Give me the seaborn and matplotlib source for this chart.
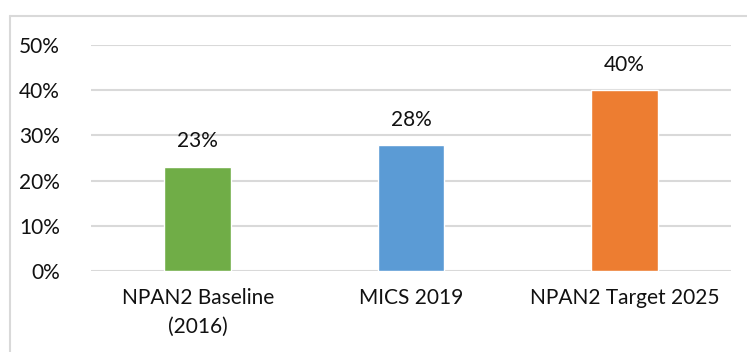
import matplotlib
matplotlib.use("Agg")
import matplotlib.pyplot as plt
from matplotlib.lines import Line2D
from matplotlib.ticker import PercentFormatter
import seaborn as sns
import pandas as pd

# Share of target indicator by source
categories = ["NPAN2 Baseline\n(2016)", "MICS 2019", "NPAN2 Target 2025"]
values = [0.231, 0.278, 0.40]
colors = ["#70AD47", "#5B9BD5", "#ED7D31"]
yticks = [0.0, 0.1, 0.2, 0.3, 0.4, 0.5]

sns.set_theme(style="white")
plt.rcParams["font.family"] = ["Lato", "DejaVu Sans"]

df = pd.DataFrame({"category": categories, "value": values})

fig = plt.figure(figsize=(7.47, 3.52), dpi=100)
ax = fig.add_axes([91 / 747, 81 / 352, 640 / 747, 226 / 352])

sns.barplot(data=df, x="category", y="value", hue="category",
            palette=colors, width=0.314, legend=False, ax=ax,
            saturation=1)

ax.set_ylim(0, 0.5)
ax.set_yticks(yticks)
ax.yaxis.set_major_formatter(PercentFormatter(1.0, decimals=0))
ax.grid(axis="y", color="#D9D9D9", linewidth=1.5)
ax.set_axisbelow(True)
for s in ax.spines.values():
    s.set_visible(False)
ax.set_xlabel("")
ax.set_ylabel("")
ax.tick_params(axis="y", length=0, pad=22.5, labelsize=15, labelcolor="#111111")
ax.tick_params(axis="x", length=0, pad=12, labelsize=15, labelcolor="#111111")
for lbl in ax.get_xticklabels():
    lbl.set_linespacing(1.55)

for i, v in enumerate(values):
    ax.annotate(f"{v:.0%}", (i, v), xytext=(0, 11), textcoords="offset points",
                ha="center", va="bottom", fontsize=15, color="#111111")

# Chart frame (top and left edges)
fig.add_artist(Line2D([10 / 747, 1], [1 - 16 / 352, 1 - 16 / 352],
                      transform=fig.transFigure, color="#D9D9D9", linewidth=1.5))
fig.add_artist(Line2D([10 / 747, 10 / 747], [0, 1 - 16 / 352],
                      transform=fig.transFigure, color="#D9D9D9", linewidth=1.5))

fig.savefig("out.png", dpi=100)
